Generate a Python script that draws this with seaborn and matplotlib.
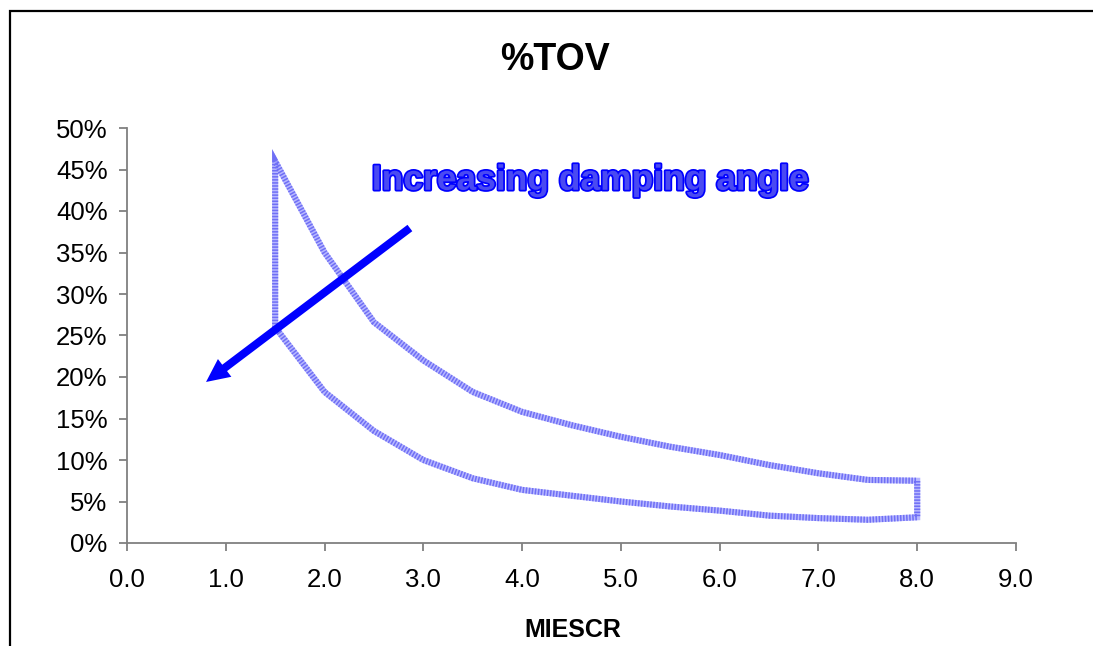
import matplotlib
matplotlib.use("Agg")
import matplotlib.pyplot as plt
import matplotlib.patheffects as pe
from matplotlib import font_manager
from matplotlib.ticker import FuncFormatter, MultipleLocator
from matplotlib.patches import Rectangle
import seaborn as sns
import pandas as pd

# ---- data ----
miescr = [1.5, 2.0, 2.5, 3.0, 3.5, 4.0, 4.5, 5.0, 5.5, 6.0, 6.5, 7.0, 7.5, 8.0]
tov_upper = [0.460, 0.350, 0.266, 0.220, 0.182, 0.158, 0.142, 0.128, 0.116, 0.106, 0.094, 0.084, 0.076, 0.075]
tov_lower = [0.260, 0.182, 0.135, 0.100, 0.078, 0.064, 0.057, 0.050, 0.044, 0.039, 0.033, 0.030, 0.028, 0.031]
x_ticks = [0, 1, 2, 3, 4, 5, 6, 7, 8, 9]
title = "%TOV"
x_label = "MIESCR"
note = "Increasing damping angle"

sns.set_style("white")
plt.rcParams["font.family"] = ["Liberation Sans", "DejaVu Sans"]
plt.rcParams["lines.scale_dashes"] = False
plt.rcParams["text.color"] = "black"

# closed outline of the band: lower curve out, upper curve back
band = pd.DataFrame({
    "x": miescr + miescr[::-1] + miescr[:1],
    "y": tov_lower + tov_upper[::-1] + tov_lower[:1],
})

fig = plt.figure(figsize=(10.93, 6.46), dpi=100)
ax = fig.add_axes([127 / 1093, 1 - 543 / 646, (1016 - 127) / 1093, (543 - 128) / 646])

sns.lineplot(data=band, x="x", y="y", sort=False, estimator=None, ax=ax,
             color="#b8b8ff", linewidth=4.4, solid_joinstyle="miter")
sns.lineplot(data=band, x="x", y="y", sort=False, estimator=None, ax=ax,
             color="#6f6ff5", linewidth=4.4, linestyle=(0, (1.1, 1.1)),
             dash_joinstyle="miter")

ax.set_xlim(0, 9)
ax.set_ylim(0, 0.5)
ax.set_xticks(x_ticks)
ax.xaxis.set_major_formatter(FuncFormatter(lambda v, p: f"{v:.1f}"))
ax.yaxis.set_major_locator(MultipleLocator(0.05))
ax.yaxis.set_major_formatter(FuncFormatter(lambda v, p: f"{v * 100:.0f}%"))
ax.set_xlabel("")
ax.set_ylabel("")

for s in ["top", "right"]:
    ax.spines[s].set_visible(False)
for s in ["left", "bottom"]:
    ax.spines[s].set_color("#808080")
    ax.spines[s].set_linewidth(1.3)
ax.tick_params(axis="both", direction="out", length=6, width=1.3, color="#808080",
               labelsize=18.5, labelcolor="black")
ax.tick_params(axis="x", pad=12)
ax.tick_params(axis="y", pad=8)
ax.tick_params(left=True, bottom=True)

# arrow
ax.annotate("", xy=(0.80, 0.194), xytext=(2.864, 0.3795),
            arrowprops=dict(arrowstyle="simple,head_length=1.05,head_width=1.0,tail_width=0.36",
                            mutation_scale=16, color="#0000ff", lw=0,
                            shrinkA=0, shrinkB=0))

# annotation text
narrow = None
try:
    narrow = font_manager.findfont(font_manager.FontProperties(family="Liberation Sans Narrow",
                                                                weight="bold"),
                                   fallback_to_default=False)
except Exception:
    narrow = None
if narrow:
    fam, size = ["Liberation Sans Narrow", "Liberation Sans"], 30
else:
    fam, size = ["Liberation Sans", "DejaVu Sans"], 25.5
ax.text(4.69, 0.437, note, ha="center", va="center", fontsize=size, fontweight="bold",
        family=fam, color="#4a4af2",
        path_effects=[pe.withStroke(linewidth=2.5, foreground="#0000ff")])

fig.text(555 / 1093, 1 - 60 / 646, title, ha="center", va="center",
         fontsize=27, fontweight="bold", color="black")
fig.text(573 / 1093, 1 - 630 / 646, x_label, ha="center", va="center",
         fontsize=18, fontweight="bold", color="black")

fig.patches.append(Rectangle((10 / 1093, -0.2), 1.2, 1.2 - 11 / 646, transform=fig.transFigure,
                             fill=False, edgecolor="black", linewidth=1.6, figure=fig))

fig.savefig("out.png", dpi=100, facecolor="white")
